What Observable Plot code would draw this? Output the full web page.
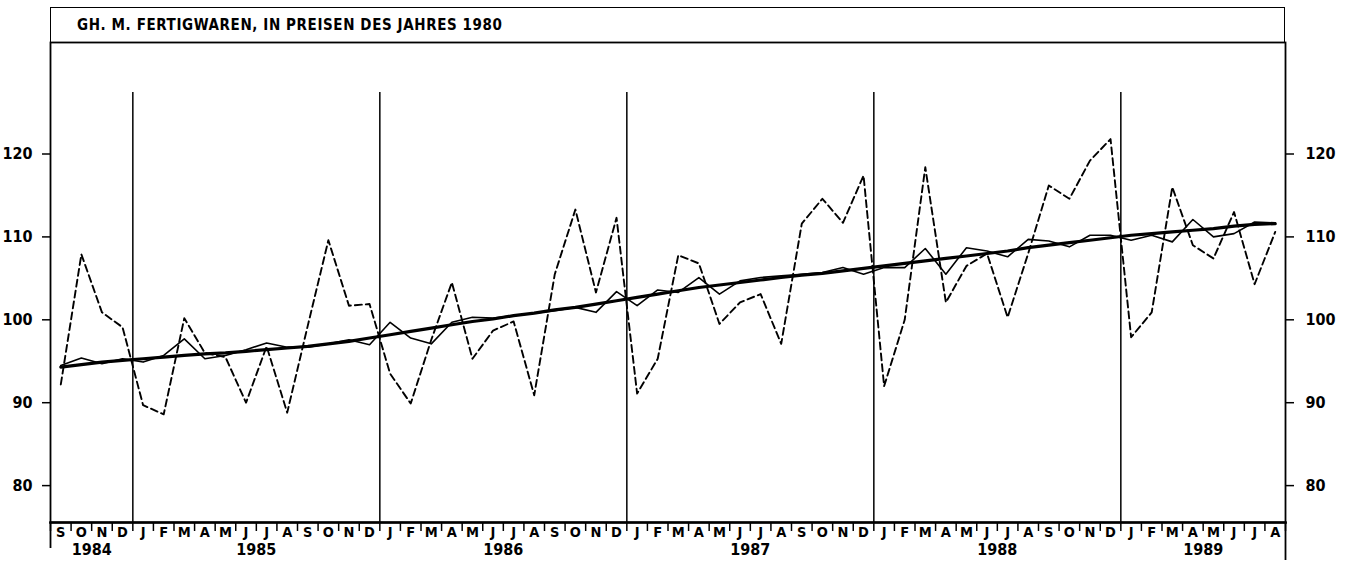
<!DOCTYPE html>
<html>
<head>
<meta charset="utf-8">
<script src="https://cdn.jsdelivr.net/npm/d3@7"></script>
<script src="https://cdn.jsdelivr.net/npm/@observablehq/plot@0.6"></script>
<style>
  body { margin: 0; background: #fff; }
  #wrap { position: relative; width: 1361px; height: 562px; }
  #wrap svg { position: absolute; left: 0; top: 0; }
  #title {
    position: absolute; left: 50px; top: 7px; width: 1235px; height: 36px;
    box-sizing: border-box; border: 1.8px solid #000; border-bottom: none;
    font-family: "DejaVu Sans Condensed", "DejaVu Sans", sans-serif;
    font-weight: bold; font-size: 15px; letter-spacing: 0.6px; color: #000;
    line-height: 34px; padding-left: 26px; z-index: 2; background: transparent;
  }
</style>
</head>
<body>
<div id="wrap"><div id="title">GH. M. FERTIGWAREN, IN PREISEN DES JAHRES 1980</div></div>
<script>
// Months shown: September 1984 to August 1989
const monthLabels = [
  "S","O","N","D",
  "J","F","M","A","M","J","J","A","S","O","N","D",
  "J","F","M","A","M","J","J","A","S","O","N","D",
  "J","F","M","A","M","J","J","A","S","O","N","D",
  "J","F","M","A","M","J","J","A","S","O","N","D",
  "J","F","M","A","M","J","J","A"
];
const years = ["1984", "1985", "1986", "1987", "1988", "1989"];
const yearMonthCounts = [4, 12, 12, 12, 12, 8];
const yTicks = [80, 90, 100, 110, 120];

// Original series (dashed)
const original = [
  92.2, 107.9, 100.9, 99.1,
  89.7, 88.6, 100.2, 96.0, 95.5, 90.0, 96.8, 88.8, 99.3, 109.6, 101.7, 101.9,
  93.5, 89.9, 97.6, 104.5, 95.3, 98.7, 99.8, 90.9, 105.5, 113.3, 103.3, 112.3,
  91.1, 95.3, 107.8, 106.8, 99.5, 102.1, 103.1, 97.1, 111.6, 114.6, 111.7, 117.4,
  92.0, 100.0, 118.4, 102.1, 106.5, 108.0, 100.3, 108.0, 116.2, 114.6, 119.2, 121.8,
  97.9, 100.9, 116.0, 109.0, 107.4, 113.0, 104.3, 110.6
];
// Seasonally adjusted series (thin solid)
const adjusted = [
  94.5, 95.4, 94.7, 95.3,
  94.9, 95.7, 97.7, 95.3, 95.7, 96.4, 97.2, 96.7, 96.7, 97.1, 97.6, 97.0,
  99.7, 97.8, 97.1, 99.7, 100.3, 100.2, 100.5, 100.8, 101.1, 101.5, 100.9, 103.4,
  101.7, 103.6, 103.3, 105.1, 103.1, 104.7, 105.1, 105.3, 105.5, 105.7, 106.3, 105.5,
  106.3, 106.3, 108.6, 105.5, 108.7, 108.3, 107.6, 109.7, 109.5, 108.8, 110.2, 110.2,
  109.6, 110.2, 109.4, 112.1, 110.0, 110.4, 111.8, 111.7
];
// Trend (thick solid)
const trend = [
  94.3, 94.6, 94.9, 95.1,
  95.3, 95.5, 95.7, 95.9, 96.0, 96.2, 96.4, 96.6, 96.8, 97.1, 97.4, 97.8,
  98.2, 98.6, 99.0, 99.4, 99.8, 100.1, 100.5, 100.8, 101.2, 101.5, 101.9, 102.3,
  102.7, 103.1, 103.5, 103.9, 104.2, 104.5, 104.8, 105.1, 105.4, 105.6, 105.9, 106.2,
  106.5, 106.8, 107.1, 107.4, 107.7, 108.0, 108.3, 108.7, 109.0, 109.3, 109.6, 109.9,
  110.2, 110.4, 110.6, 110.8, 111.0, 111.3, 111.5, 111.6
];

const rows = monthLabels.map((m, i) => ({
  pos: i + 0.5, month: m, original: original[i], adjusted: adjusted[i], trend: trend[i]
}));
let cum = 0;
const yearRows = years.map((y, k) => {
  const start = cum; cum += yearMonthCounts[k];
  return {year: y, start, mid: start + yearMonthCounts[k] / 2};
});
const yearStarts = yearRows.slice(1).map(d => d.start);
const n = monthLabels.length;
const font = '"DejaVu Sans Condensed", "DejaVu Sans", sans-serif';

const chart = Plot.plot({
  width: 1361,
  height: 562,
  marginLeft: 50,
  marginRight: 76,
  marginTop: 42,
  marginBottom: 40,
  x: {type: "linear", domain: [0, n], axis: null},
  y: {domain: [75.55, 133.45], axis: null},
  style: {fontFamily: font, background: "transparent", color: "black"},
  marks: [
    Plot.ruleX(yearStarts, {insetTop: 50, strokeWidth: 1.5}),
    Plot.line(rows, {x: "pos", y: "original", strokeWidth: 1.9, strokeDasharray: "7,4"}),
    Plot.line(rows, {x: "pos", y: "adjusted", strokeWidth: 1.6}),
    Plot.line(rows, {x: "pos", y: "trend", strokeWidth: 3.2}),
    Plot.frame({strokeWidth: 1.8}),
    Plot.frame({anchor: "bottom", strokeWidth: 2.6}),
    Plot.axisY({anchor: "left", ticks: yTicks, tickSize: 8, tickPadding: 10, fontSize: 16, fontWeight: "bold", label: null, strokeWidth: 1.5}),
    Plot.axisY({anchor: "right", ticks: yTicks, tickSize: 8, tickPadding: 12, fontSize: 16, fontWeight: "bold", label: null, strokeWidth: 1.5}),
    Plot.axisX({ticks: d3.range(0, n + 1), tickSize: 9, tickFormat: () => "", label: null, strokeWidth: 1.5}),
    Plot.axisX({ticks: [0], tickSize: 26, tickFormat: () => "", label: null, strokeWidth: 1.8}),
    Plot.axisX({ticks: [n], tickSize: 38, tickFormat: () => "", label: null, strokeWidth: 1.8}),
    Plot.axisX({ticks: rows.map(d => d.pos), tickSize: 0, tickPadding: 4, tickFormat: d => rows[Math.floor(d)].month, fontSize: 14.5, fontWeight: "bold", label: null}),
    Plot.axisX({ticks: yearRows.map(d => d.mid), tickSize: 0, tickPadding: 21, tickFormat: d => yearRows.find(r => r.mid === d).year, fontSize: 16, fontWeight: "bold", label: null})
  ]
});
document.getElementById("wrap").prepend(chart);
</script>
</body>
</html>
